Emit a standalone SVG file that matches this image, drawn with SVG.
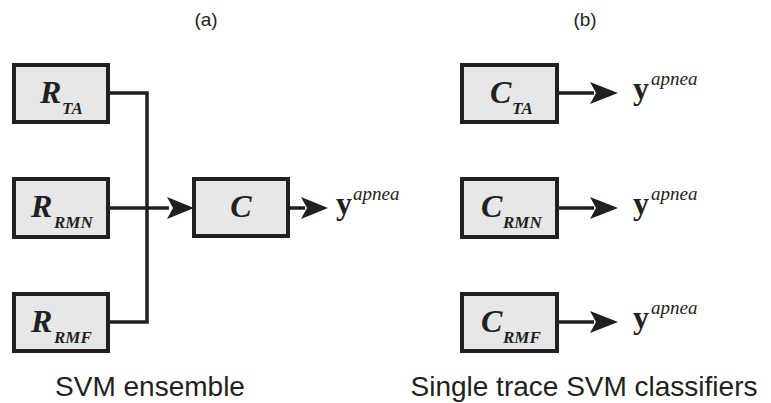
<svg xmlns="http://www.w3.org/2000/svg" width="771" height="403" viewBox="0 0 771 403">
<style>
.box{fill:#e6e7e8;stroke:#231f20;stroke-width:4}
.ln{fill:none;stroke:#231f20;stroke-width:3.5}
.big{font-family:"Liberation Serif",serif;font-weight:bold;font-style:italic;font-size:32px;fill:#231f20}
.sub{font-family:"Liberation Serif",serif;font-weight:bold;font-style:italic;font-size:17px;fill:#231f20}
.y{font-family:"Liberation Serif",serif;font-weight:bold;font-size:32px;fill:#231f20}
.sup{font-family:"Liberation Serif",serif;font-style:italic;font-size:19px;fill:#231f20}
.lab{font-family:"Liberation Sans",Arial,sans-serif;font-size:28px;fill:#231f20}
.cap{font-family:"Liberation Sans",Arial,sans-serif;font-size:19px;fill:#231f20}
.ah{fill:#231f20}
</style>
<text class="cap" x="206" y="26" text-anchor="middle">(a)</text>
<text class="cap" x="585" y="26" text-anchor="middle">(b)</text>
<g id="connectors">
<path class="ln" d="M108,93 H147 V322 H108"/>
<line class="ln" x1="108" y1="208" x2="169" y2="208"/>
<path class="ah" d="M167,197 L194,208 L167,219 L173,208 Z"/>
<line class="ln" x1="288" y1="208" x2="305" y2="208"/>
<path class="ah" d="M301,197 L328,208 L301,219 L307,208 Z"/>
<line class="ln" x1="557" y1="93" x2="594" y2="93"/>
<path class="ah" d="M590,82 L618,93 L590,104 L596,93 Z"/>
<line class="ln" x1="557" y1="208" x2="594" y2="208"/>
<path class="ah" d="M590,197 L618,208 L590,219 L596,208 Z"/>
<line class="ln" x1="557" y1="322" x2="594" y2="322"/>
<path class="ah" d="M590,311 L618,322 L590,333 L596,322 Z"/>
</g>
<g id="R_TA"><rect class="box" x="14" y="65" width="94" height="57"/><text class="big" x="40" y="103">R</text><text class="sub" x="62" y="114">TA</text></g>
<g id="R_RMN"><rect class="box" x="14" y="179" width="94" height="58"/><text class="big" x="31" y="217">R</text><text class="sub" x="54" y="228">RMN</text></g>
<g id="R_RMF"><rect class="box" x="14" y="294" width="94" height="57"/><text class="big" x="31" y="332">R</text><text class="sub" x="54" y="343">RMF</text></g>
<g id="C"><rect class="box" x="194" y="179" width="94" height="57"/><text class="big" x="241" y="217" text-anchor="middle">C</text></g>
<g id="y_a"><text class="y" x="336" y="214">y</text><text class="sup" x="353" y="200">apnea</text></g>
<g id="C_TA"><rect class="box" x="462" y="65" width="95" height="57"/><text class="big" x="490" y="103">C</text><text class="sub" x="512" y="114">TA</text></g>
<g id="C_RMN"><rect class="box" x="462" y="179" width="95" height="58"/><text class="big" x="481" y="217">C</text><text class="sub" x="503" y="228">RMN</text></g>
<g id="C_RMF"><rect class="box" x="462" y="294" width="95" height="57"/><text class="big" x="481" y="332">C</text><text class="sub" x="503" y="343">RMF</text></g>
<g id="y_b1"><text class="y" x="633" y="99">y</text><text class="sup" x="651" y="85">apnea</text></g>
<g id="y_b2"><text class="y" x="633" y="214">y</text><text class="sup" x="651" y="200">apnea</text></g>
<g id="y_b3"><text class="y" x="633" y="328">y</text><text class="sup" x="651" y="314">apnea</text></g>
<text class="lab" x="150" y="396" text-anchor="middle">SVM ensemble</text>
<text class="lab" x="584" y="396" text-anchor="middle">Single trace SVM classifiers</text>
</svg>
